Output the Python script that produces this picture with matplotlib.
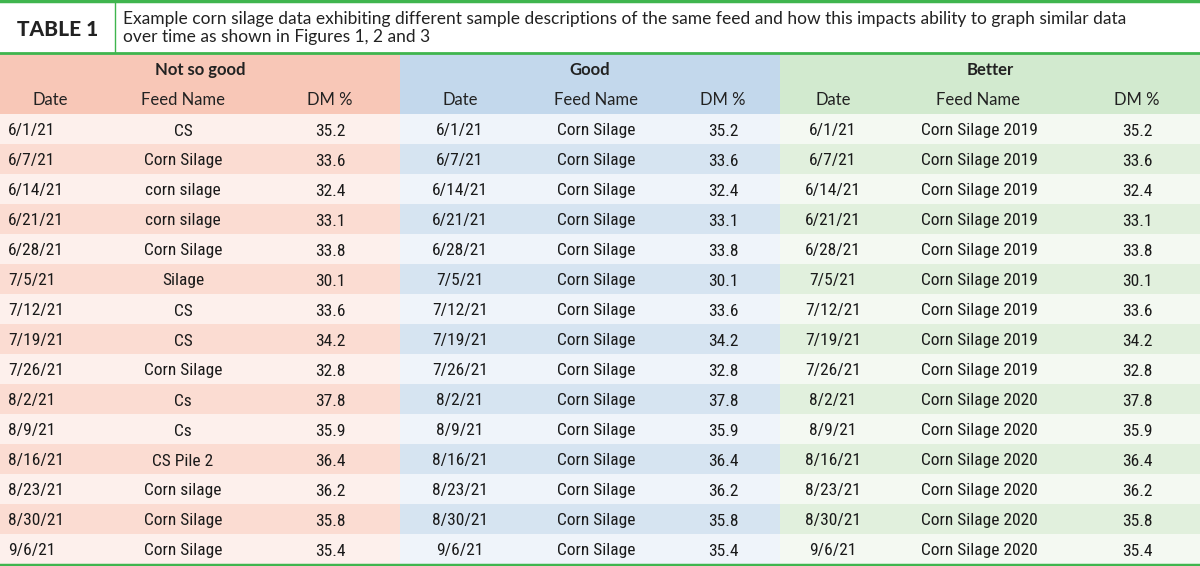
import matplotlib.pyplot as plt
from matplotlib.patches import Rectangle

dates = ["6/1/21", "6/7/21", "6/14/21", "6/21/21", "6/28/21", "7/5/21", "7/12/21",
         "7/19/21", "7/26/21", "8/2/21", "8/9/21", "8/16/21", "8/23/21", "8/30/21", "9/6/21"]
names_not_so_good = ["CS", "Corn Silage", "corn silage", "corn silage", "Corn Silage", "Silage",
                     "CS", "CS", "Corn Silage", "Cs", "Cs", "CS Pile 2", "Corn silage",
                     "Corn Silage", "Corn Silage"]
names_good = ["Corn Silage"] * 15
names_better = ["Corn Silage 2019"] * 9 + ["Corn Silage 2020"] * 6
dm = [35.2, 33.6, 32.4, 33.1, 33.8, 30.1, 33.6, 34.2, 32.8, 37.8, 35.9, 36.4, 36.2, 35.8, 35.4]

groups = ["Not so good", "Good", "Better"]
columns = ["Date", "Feed Name", "DM %"]
title_tag = "TABLE 1"
title_text = ("Example corn silage data exhibiting different sample descriptions of the same feed "
              "and how this impacts ability to graph similar data\nover time as shown in Figures 1, 2 and 3")

# section layout (pixels)
sections = [
    dict(x0=0, x1=400, head="#f8c7b7", light="#fdf0ec", dark="#fbdcd2",
         cols=[(8, "left"), (183, "center"), (330, "center")], hcols=[50, 183, 330],
         names=names_not_so_good),
    dict(x0=400, x1=780, head="#c3d8ec", light="#eff4fa", dark="#d6e4f1",
         cols=[(460, "center"), (596, "center"), (723, "center")], hcols=[460, 596, 723],
         names=names_good),
    dict(x0=780, x1=1200, head="#d2eacf", light="#f4f9f2", dark="#e1f0dd",
         cols=[(833, "center"), (979, "center"), (1137, "center")], hcols=[833, 978, 1137],
         names=names_better),
]

green = "#3fb54e"
head_font = "Lato"
data_font = ["Roboto Condensed", "Liberation Sans"]

fig = plt.figure(figsize=(12, 5.66), dpi=100)
ax = fig.add_axes([0, 0, 1, 1])
ax.set_xlim(0, 1200)
ax.set_ylim(566, 0)
ax.axis("off")

# title block
ax.text(58, 29, title_tag, ha="center", va="center", fontsize=15, fontweight="black",
        family=head_font, color="#222222")
ax.text(123, 28, title_text, ha="left", va="center", fontsize=12.5, family=head_font,
        color="#222222", linespacing=1.2)
ax.plot([115, 115], [2, 52], color=green, lw=1)

row_top = 114
row_h = 30
for k, s in enumerate(sections):
    w = s["x1"] - s["x0"]
    ax.add_patch(Rectangle((s["x0"], 54), w, row_top - 54, color=s["head"], lw=0))
    ax.text((s["x0"] + s["x1"]) / 2, 75, groups[k], ha="center", va="baseline",
            fontsize=12, fontweight="bold", family=head_font, color="#222222")
    for c, hx in zip(columns, s["hcols"]):
        ax.text(hx, 105, c, ha="center", va="baseline", fontsize=12, family=head_font,
                color="#222222")
    for i in range(len(dates)):
        y = row_top + i * row_h
        ax.add_patch(Rectangle((s["x0"], y), w, row_h,
                               color=s["light"] if i % 2 == 0 else s["dark"], lw=0))
        vals = [dates[i], s["names"][i], f"{dm[i]:.1f}"]
        for (cx, ha), v in zip(s["cols"], vals):
            ax.text(cx, y + 21.5, v, ha=ha, va="baseline", fontsize=12.5, family=data_font,
                    color="#1a1a1a")

# green rules
ax.plot([0, 1200], [1, 1], color=green, lw=2.5)
ax.plot([0, 1200], [53, 53], color=green, lw=2)
ax.plot([0, 1200], [564.5, 564.5], color=green, lw=2.5)

fig.savefig("out.png", dpi=100)
